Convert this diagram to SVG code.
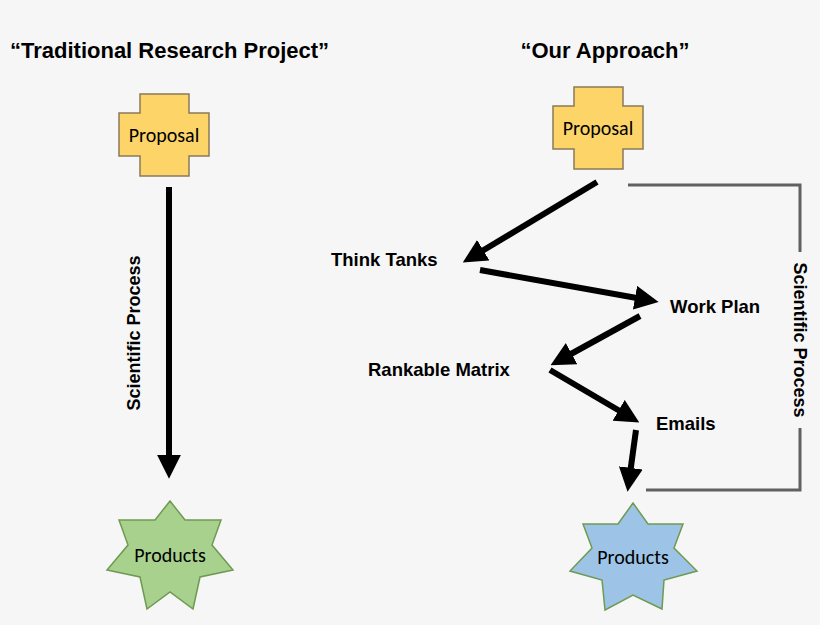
<svg xmlns="http://www.w3.org/2000/svg" width="820" height="625" viewBox="0 0 820 625">
<style>
.t{font-family:"Liberation Sans",Arial,sans-serif;font-weight:bold;fill:#000}
.n{font-family:Calibri,"Liberation Sans",Arial,sans-serif;fill:#000;font-size:20px}
.a{stroke:#000;stroke-width:6;fill:none;marker-end:url(#ah)}
.p{fill:#fcd468;stroke:#8a7a5a;stroke-width:1.5}
</style>
<defs>
<marker id="ah" markerWidth="4" markerHeight="4" refX="2.2" refY="2" orient="auto" markerUnits="strokeWidth">
<path d="M0,0 L4,2 L0,4 z" fill="#000"/>
</marker>
</defs>
<rect width="820" height="625" fill="#f6f6f6"/>
<text class="t" x="10" y="58" font-size="22">“Traditional Research Project”</text>
<text class="t" x="605" y="58" font-size="22" text-anchor="middle">“Our Approach”</text>
<g id="proposal1">
<path class="p" d="M140,94 H189 V113 H209 V156 H189 V176 H140 V156 H119 V113 H140 Z"/>
<text class="n" x="164" y="142" text-anchor="middle">Proposal</text>
</g>
<g id="proposal2">
<path class="p" d="M574,87 H623 V106 H643 V149 H623 V169 H574 V149 H553 V106 H574 Z"/>
<text class="n" x="598" y="135" text-anchor="middle">Proposal</text>
</g>
<g id="products1">
<polygon fill="#a9d18e" stroke="#6f9a52" stroke-width="1.5" points="170,501 185,520 221,520 212,545 233,570 200,577 193,609 170,592 147,609 140,577 107,570 128,545 119,520 155,520"/>
<text class="n" x="170" y="562" text-anchor="middle">Products</text>
</g>
<g id="products2">
<polygon fill="#9dc3e6" stroke="#6f9a52" stroke-width="1.5" points="633,503 648,524 683,524 674,548 697,571 664,580 662,609 633,595 605,610 602,580 570,571 592,548 583,524 618,524"/>
<text class="n" x="633" y="564" text-anchor="middle">Products</text>
</g>
<g id="labels">
<text class="t" x="331" y="266" font-size="18.5">Think Tanks</text>
<text class="t" x="670" y="313" font-size="18.5">Work Plan</text>
<text class="t" x="368" y="376" font-size="18.5">Rankable Matrix</text>
<text class="t" x="656" y="430" font-size="18.5">Emails</text>
</g>
<g id="connectors">
<line class="a" x1="169" y1="187" x2="169" y2="468"/>
<text class="t" font-size="18" transform="translate(140,333) rotate(-90)" text-anchor="middle">Scientific Process</text>
<line class="a" x1="597" y1="182" x2="472" y2="257"/>
<line class="a" x1="480" y1="270" x2="648" y2="300"/>
<line class="a" x1="640" y1="316" x2="560" y2="360"/>
<line class="a" x1="550" y1="370" x2="630" y2="417"/>
<line class="a" x1="636" y1="430" x2="629" y2="481"/>
<path d="M628,185 H800 V252 M800,428 V490 H646" stroke="#606060" stroke-width="3" fill="none"/>
<text class="t" font-size="18" transform="translate(794,340) rotate(90)" text-anchor="middle">Scientific Process</text>
</g>
</svg>
